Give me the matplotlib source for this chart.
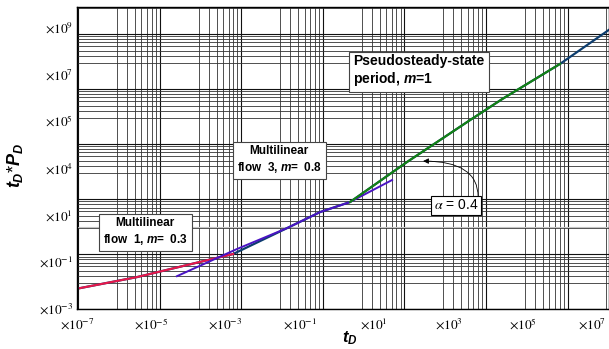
import matplotlib.pyplot as plt
from matplotlib.ticker import LogLocator, NullLocator
from matplotlib.transforms import ScaledTranslation

plt.rcParams['font.family'] = 'Liberation Sans'
plt.rcParams['mathtext.fontset'] = 'custom'
plt.rcParams['mathtext.it'] = 'Liberation Sans:italic:bold'
plt.rcParams['mathtext.rm'] = 'Liberation Sans:bold'

# curves (t_D, t_D*P_D)
total_t = [1.2e-7, 4.1e-6, 9.2e-5, 1.6e-3, 4.5e-2, 0.35, 2.24, 76.7, 3.8e3, 2.8e4, 1.01e6, 2.24e7]
total_p = [7.1e-3, 2.1e-2, 6.9e-2, 0.204, 2.6, 12.6, 33.9, 1.74e3, 1.07e5, 8.5e5, 2.7e7, 8.3e8]

flow1_t = [1.2e-7, 4.1e-6, 9.2e-5, 1.6e-3]
flow1_p = [7.1e-3, 2.1e-2, 6.9e-2, 0.204]

flow3_t = [4.9e-5, 2.0e-3, 4.5e-2, 0.35, 2.24, 30.3]
flow3_p = [2.3e-2, 0.33, 2.6, 12.6, 33.9, 295]

pss_t = [2.24, 76.7, 3.8e3, 2.8e4, 1.01e6]
pss_p = [33.9, 1.74e3, 1.07e5, 8.5e5, 2.7e7]

arrow_tip = (207, 1.9e3)

x_ticks = [1e-7, 1e-5, 1e-3, 1e-1, 1e1, 1e3, 1e5, 1e7]
x_labels = [r'$\times10^{-7}$', r'$\times10^{-5}$', r'$\times10^{-3}$', r'$\times10^{-1}$',
            r'$\times10^{1}$', r'$\times10^{3}$', r'$\times10^{5}$', r'$\times10^{7}$']
y_ticks = [1e-3, 1e-1, 1e1, 1e3, 1e5, 1e7, 1e9]
y_labels = [r'$\times10^{-3}$', r'$\times10^{-1}$', r'$\times10^{1}$', r'$\times10^{4}$',
            r'$\times10^{5}$', r'$\times10^{7}$', r'$\times10^{9}$']

fig = plt.figure(figsize=(6.09, 3.49), dpi=100)
rect = [77 / 609, 40 / 349, 532 / 609, 302 / 349]

# log paper in the background
bg = fig.add_axes(rect, zorder=0)
bg.set_xscale('log')
bg.set_yscale('log')
bg.set_xlim(10 ** -0.012, 10 ** 6.508)
bg.set_ylim(1, 10 ** 5.49)
for axis in (bg.xaxis, bg.yaxis):
    axis.set_major_locator(LogLocator(base=10, numticks=50))
    axis.set_minor_locator(LogLocator(base=10, subs=(3, 4, 5, 6, 7, 8, 9), numticks=50))
bg.grid(True, which='major', color='#111111', lw=0.8)
bg.grid(True, which='minor', color='#333333', lw=0.6)
bg.axhline(10 ** 1.49, color='#c4c4c4', lw=0.8)
bg.tick_params(which='both', length=0, labelbottom=False, labelleft=False)
for s in bg.spines.values():
    s.set_visible(False)

ax = fig.add_axes(rect, zorder=1)
ax.patch.set_alpha(0)
ax.set_xscale('log')
ax.set_yscale('log')
ax.set_xlim(1e-7, 10 ** 7.32)
ax.set_ylim(10 ** -3.04, 10 ** 9.86)

ax.plot(total_t, total_p, color='#0d3d6e', lw=1.6)
ax.plot(flow1_t, flow1_p, color='#e8174b', lw=1.5)
ax.plot(flow3_t, flow3_p, color='#4a14c4', lw=1.4)
ax.plot(pss_t, pss_p, color='#128312', lw=1.5)

ax.set_xticks(x_ticks, x_labels, math_fontfamily='stix', fontsize=9.5)
ax.set_yticks(y_ticks, y_labels, math_fontfamily='stix', fontsize=9.5)
ax.xaxis.set_minor_locator(NullLocator())
ax.yaxis.set_minor_locator(NullLocator())
ax.tick_params(axis='x', length=0, pad=6)
ax.tick_params(axis='y', length=0, pad=3)
for s in ax.spines.values():
    s.set_linewidth(1.0)

# last x label sits at the figure edge, nudge it inside
last = ax.get_xticklabels()[-1]
last.set_transform(last.get_transform() + ScaledTranslation(-5 / 100, 0, fig.dpi_scale_trans))

ax.set_xlabel(r'$t_D$', fontsize=12)
ax.xaxis.set_label_coords(0.513, -0.066)
ax.set_ylabel(r'$t_D$*$P_D$', fontsize=13)
ax.yaxis.set_label_coords(-0.098, 0.477)

box = dict(boxstyle='square,pad=0.35', fc='white', ec='#444444', lw=0.8)
ax.text(0.128, 0.255, 'Multilinear\nflow  1, $m$=  0.3', transform=ax.transAxes,
        ha='center', va='center', fontsize=8.5, fontweight='bold', multialignment='center',
        linespacing=1.3, bbox=box)
ax.text(0.380, 0.493, 'Multilinear\nflow  3, $m$=  0.8', transform=ax.transAxes,
        ha='center', va='center', fontsize=8.5, fontweight='bold', multialignment='center',
        linespacing=1.3, bbox=box)
ax.text(0.643, 0.788, 'Pseudosteady-state\nperiod, $m$=1', transform=ax.transAxes,
        ha='center', va='center', fontsize=10, fontweight='bold', multialignment='left',
        linespacing=1.15, bbox=dict(boxstyle='square,pad=0.3', fc='white', ec='#444444', lw=0.8))

ax.annotate('', xy=arrow_tip, xycoords='data', xytext=(0.754, 0.371), textcoords='axes fraction',
            arrowprops=dict(arrowstyle='-|>', connectionstyle='angle3,angleA=90,angleB=0',
                            color='black', lw=0.6, mutation_scale=8, shrinkA=0, shrinkB=0))
ax.text(0.712, 0.343, r'$\alpha$ = 0.4', transform=ax.transAxes, ha='center', va='center',
        fontsize=10, math_fontfamily='stix',
        bbox=dict(boxstyle='square,pad=0.2', fc='white', ec='black', lw=0.8))

fig.savefig('out.png', dpi=100)
